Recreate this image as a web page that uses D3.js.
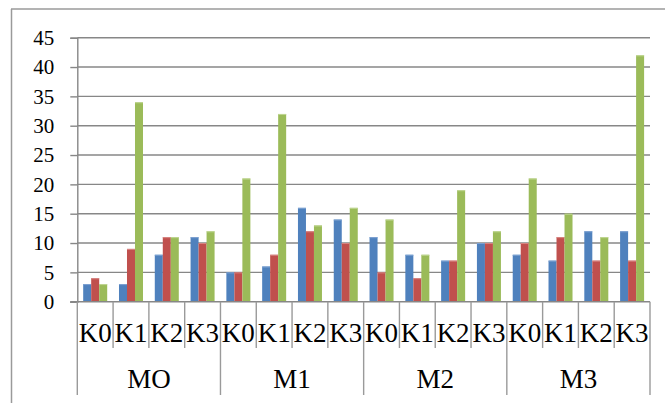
<!DOCTYPE html>
<html>
<head>
<meta charset="utf-8">
<script src="https://cdn.jsdelivr.net/npm/d3@7/dist/d3.min.js"></script>
<style>
  @font-face { font-family: "ChartSerif"; src: local("Liberation Serif"), local("LiberationSerif-Regular"), local("Tinos"); }
  html, body { margin: 0; padding: 0; background: #fff; }
  svg { display: block; }
  svg text { font-family: "Liberation Serif", "ChartSerif", Times, monospace !important; fill: #000; }
</style>
</head>
<body>
<svg id="chart" width="665" height="403" font-family="Liberation Serif"></svg>
<script>
// Groups and sub-categories along the x axis
const groups = ["MO", "M1", "M2", "M3"];
const subCats = ["K0", "K1", "K2", "K3"];

// Series values, one entry per (group, sub-category) in order
const seriesBlue  = [3, 3, 8, 11,   5, 6, 16, 14,   11, 8, 7, 10,   8, 7, 12, 12];
const seriesRed   = [4, 9, 11, 10,  5, 8, 12, 10,   5, 4, 7, 10,    10, 11, 7, 7];
const seriesGreen = [3, 34, 11, 12, 21, 32, 13, 16, 14, 8, 19, 12,  21, 15, 11, 42];

const yTicks = [0, 5, 10, 15, 20, 25, 30, 35, 40, 45];

const series = [
  { name: "s1", values: seriesBlue,  color: "#4F81BD", edge: "#7FA3D2" },
  { name: "s2", values: seriesRed,   color: "#C0504D", edge: "#D88784" },
  { name: "s3", values: seriesGreen, color: "#9BBB59", edge: "#C0D794" }
];

const svg = d3.select("#chart");
const plotL = 77.3, plotR = 650, plotT = 37.7, plotB = 301.7;

// Outer frame (left and top edges)
svg.append("line").attr("x1", 11.5).attr("x2", 11.5).attr("y1", 9).attr("y2", 403)
  .attr("stroke", "#9a9a9a").attr("stroke-width", 1.5);
svg.append("line").attr("x1", 11).attr("x2", 665).attr("y1", 9).attr("y2", 9)
  .attr("stroke", "#9a9a9a").attr("stroke-width", 1.5);

const cats = [];
groups.forEach(g => subCats.forEach(k => cats.push(g + "|" + k)));

const x = d3.scaleBand().domain(cats).range([plotL, plotR]).paddingInner(0).paddingOuter(0);
const y = d3.scaleLinear().domain([0, 45]).range([plotB, plotT]);

// Gridlines and y ticks
const gridColor = "#878787";
svg.append("g").selectAll("line").data(yTicks.filter(t => t > 0)).join("line")
  .attr("x1", plotL).attr("x2", plotR)
  .attr("y1", d => y(d)).attr("y2", d => y(d))
  .attr("stroke", gridColor).attr("stroke-width", 1.4);

const yAxis = d3.axisLeft(y).tickValues(yTicks).tickSize(7).tickPadding(16).tickFormat(d3.format("d"));
const gy = svg.append("g").attr("transform", `translate(${plotL},0)`).call(yAxis);
gy.attr("font-family", "Liberation Serif").attr("font-size", 21);
gy.select(".domain").attr("stroke", gridColor).attr("stroke-width", 1.4);
gy.selectAll(".tick line").attr("stroke", gridColor).attr("stroke-width", 1.4);
gy.selectAll(".tick text").attr("fill", "#000");

// Bars
const barW = 8;
series.forEach((s, si) => {
  const gs = svg.append("g");
  const xPos = i => x(cats[i]) + (x.bandwidth() - 3 * barW) / 2 + si * barW;
  gs.selectAll("rect").data(s.values).join("rect")
    .attr("x", (d, i) => xPos(i))
    .attr("y", d => y(d))
    .attr("width", barW)
    .attr("height", d => y(0) - y(d))
    .attr("fill", s.color);
  gs.selectAll("line").data(s.values).join("line")
    .attr("x1", (d, i) => xPos(i)).attr("x2", (d, i) => xPos(i) + barW)
    .attr("y1", d => y(d) + 0.5).attr("y2", d => y(d) + 0.5)
    .attr("stroke", s.edge).attr("stroke-width", 1);
});

// x axis baseline
svg.append("line").attr("x1", plotL - 7).attr("x2", plotR).attr("y1", plotB).attr("y2", plotB)
  .attr("stroke", gridColor).attr("stroke-width", 1.6);

// Category separators: short between sub-categories, long between groups
const bounds = d3.range(cats.length + 1);
svg.append("g").selectAll("line").data(bounds).join("line")
  .attr("x1", i => plotL + i * x.bandwidth()).attr("x2", i => plotL + i * x.bandwidth())
  .attr("y1", plotB).attr("y2", i => (i % subCats.length === 0) ? 395 : 348)
  .attr("stroke", "#9a9a9a").attr("stroke-width", 1.4);

// Sub-category labels
svg.append("g").selectAll("text").data(cats).join("text")
  .attr("x", d => x(d) + x.bandwidth() / 2)
  .attr("y", 342)
  .attr("text-anchor", "middle")
  .attr("font-size", 27)
  .text(d => d.split("|")[1]);

// Group labels
svg.append("g").selectAll("text").data(groups).join("text")
  .attr("x", (g, gi) => plotL + (gi * subCats.length + subCats.length / 2) * x.bandwidth())
  .attr("y", 388)
  .attr("text-anchor", "middle")
  .attr("font-size", 27)
  .text(d => d);
</script>
</body>
</html>
